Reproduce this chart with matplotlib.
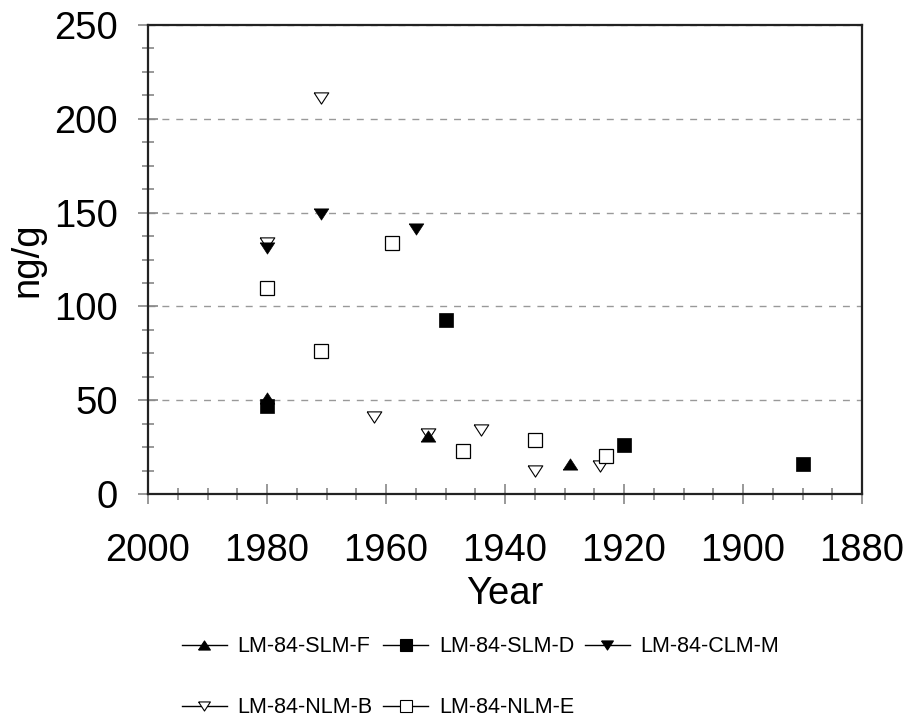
import matplotlib
matplotlib.use("Agg")
import matplotlib.pyplot as plt
from matplotlib.lines import Line2D
from matplotlib.ticker import MultipleLocator

plt.rcParams['font.family'] = ['Liberation Sans', 'DejaVu Sans']

# ---- data ----
slm_f_year = [1980, 1953, 1929]
slm_f_val  = [51, 31, 16]

slm_d_year = [1980, 1950, 1920, 1890]
slm_d_val  = [47, 93, 26, 16]

clm_m_year = [1980, 1971, 1955]
clm_m_val  = [131, 149, 141]

nlm_b_year = [1980, 1971, 1962, 1953, 1944, 1935, 1924]
nlm_b_val  = [134, 211, 41, 32, 34, 12, 15]

nlm_e_year = [1980, 1971, 1959, 1947, 1935, 1923]
nlm_e_val  = [110, 76, 134, 23, 29, 20]

labels = ["LM-84-SLM-F", "LM-84-SLM-D", "LM-84-CLM-M", "LM-84-NLM-B", "LM-84-NLM-E"]

# slightly flat triangles like the original
TRI_UP = [(-1, -0.77), (1, -0.77), (0, 0.77), (-1, -0.77)]
TRI_DN = [(-1, 0.77), (1, 0.77), (0, -0.77), (-1, 0.77)]

# ---- figure ----
fig = plt.figure(figsize=(9.05, 7.21), dpi=100)
ax = fig.add_axes([148/905, 1-494/721, (862-148)/905, (494-25)/721])

# open symbols first, filled ones drawn on top
ax.plot(nlm_b_year, nlm_b_val, ls='none', marker=TRI_DN, ms=10.5, mfc='white', mec='black', mew=0.8, zorder=3)
ax.plot(nlm_e_year, nlm_e_val, ls='none', marker='s', ms=9.5, mfc='white', mec='black', mew=0.9, zorder=3)
ax.plot(slm_f_year, slm_f_val, ls='none', marker=TRI_UP, ms=10.5, mfc='black', mec='black', mew=0.5, zorder=4)
ax.plot(slm_d_year, slm_d_val, ls='none', marker='s', ms=9.5, mfc='black', mec='black', mew=0.5, zorder=4)
ax.plot(clm_m_year, clm_m_val, ls='none', marker=TRI_DN, ms=10.5, mfc='black', mec='black', mew=0.5, zorder=4)

ax.set_xlim(2000, 1880)
ax.set_ylim(0, 250)
ax.xaxis.set_major_locator(MultipleLocator(20))
ax.xaxis.set_minor_locator(MultipleLocator(5))
ax.yaxis.set_major_locator(MultipleLocator(50))
ax.yaxis.set_minor_locator(MultipleLocator(12.5))

ax.yaxis.grid(True, which='major', ls=(0, (5, 5)), color='#999999', lw=1)
ax.set_axisbelow(True)

ax.tick_params(which='major', direction='inout', length=14, width=1.2, color='#888888',
               labelsize=27.5)
ax.tick_params(which='minor', direction='inout', length=9, width=1.2, color='#888888')
ax.tick_params(axis='x', which='major', pad=21)
ax.tick_params(axis='y', which='major', pad=14.5)

for s in ax.spines.values():
    s.set_linewidth(1.6)
    s.set_color('#222222')

ax.set_xlabel("Year", fontsize=27.5, labelpad=5)
ax.set_ylabel("ng/g", fontsize=27.5, labelpad=6)

# ---- legend (row order: F, B / D, E / C) ----
def h(marker, filled):
    return Line2D([], [], color='black', lw=1, marker=marker, ms=8.5,
                  mfc='black' if filled else 'white', mec='black', mew=0.8)

handles = [h(TRI_UP, True), h(TRI_DN, False), h('s', True), h('s', False), h(TRI_DN, True)]
leg_labels = [labels[0], labels[3], labels[1], labels[4], labels[2]]
fig.legend(handles, leg_labels, ncol=3, loc='upper left',
           bbox_to_anchor=(181.7/905, 1-636.5/721), frameon=False,
           fontsize=15.5, handlelength=2.1, handletextpad=0.5,
           columnspacing=0.48, labelspacing=1.85, borderpad=0, borderaxespad=0)

fig.savefig("out.png", dpi=100)
